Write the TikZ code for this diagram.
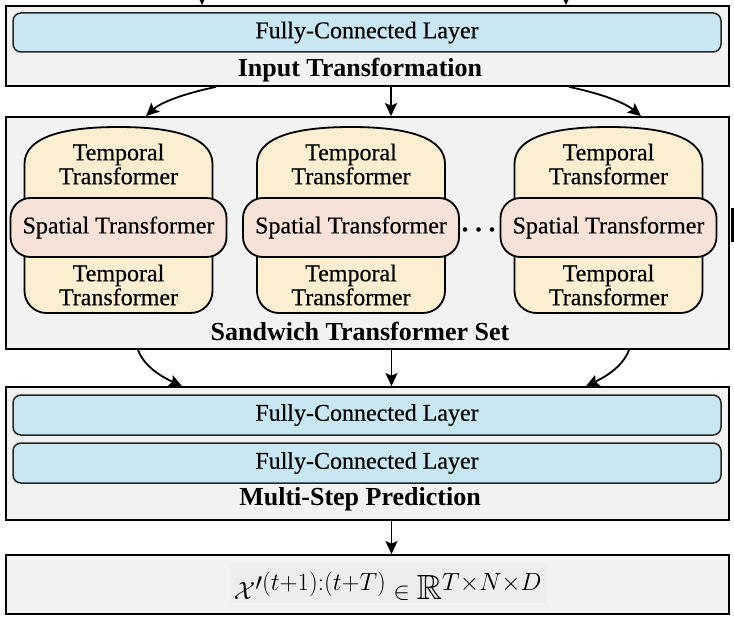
\documentclass[tikz,border=0pt]{standalone}
\usepackage{amsmath,amssymb}
\usepackage{fontspec}
\setmainfont{Liberation Serif}[UprightFeatures={FakeBold=0.35}]
\usetikzlibrary{arrows.meta}
\definecolor{boxgray}{HTML}{F2F2F2}
\definecolor{patchgray}{HTML}{EDEDED}
\definecolor{fcblue}{HTML}{C9E7F3}
\definecolor{tmpyellow}{HTML}{FCEFD1}
\definecolor{spatpink}{HTML}{F6E2D7}
\tikzset{
  outerbox/.style={draw=black, line width=1.8pt, fill=boxgray, minimum width=723pt, inner sep=0pt},
  fcbox/.style={draw=black!85, line width=1.5pt, fill=fcblue, rounded corners=8pt, minimum width=708pt, minimum height=39pt, inner sep=0pt, font=\fontsize{24}{28}\selectfont},
  tmpshape/.style={draw=black, line width=1.8pt, fill=tmpyellow},
  spatbox/.style={draw=black, line width=1.8pt, fill=spatpink, rounded corners=20pt, minimum width=216pt, minimum height=59pt, inner sep=0pt, font=\fontsize{24}{28}\selectfont},
  tlabel/.style={align=center, inner sep=0pt, font=\fontsize{24}{24}\selectfont},
  title/.style={inner sep=0pt, font=\bfseries\fontsize{26}{30}\selectfont},
  arr/.style={line width=1.8pt, -{Stealth[length=13pt,width=12pt,inset=2.5pt]}}
}
\newcommand{\sandunit}[2]{%
  \draw[tmpshape] (#1-94,230) -- (#1-94,164) .. controls (#1-94,138) and (#1-58,127) .. (#1,127)
     .. controls (#1+58,127) and (#1+94,138) .. (#1+94,164) -- (#1+94,230) -- cycle;
  \draw[tmpshape, rounded corners=22pt] (#1-94,226) rectangle (#1+94,313);
  \node[tlabel] (#2tt) at (#1,164) {Temporal\\Transformer};
  \node[tlabel] (#2tb) at (#1,285) {Temporal\\Transformer};
  \node[spatbox] (#2s) at (#1,227.5) {Spatial Transformer};
}
\begin{document}
\begin{tikzpicture}[x=1pt,y=-1pt]
\useasboundingbox (0,0) rectangle (734,618);
% input transformation
\node[outerbox, minimum height=80pt] (inp) at (367.5,46) {};
\node[fcbox] (fc0) at (367,32.5) {Fully-Connected Layer};
\node[title] (inpt) at (360,70) {Input Transformation};
\coordinate (topa) at (202,-20);
\coordinate (topb) at (566,-20);
\draw[arr] (topa) -- (topa |- inp.north);
\draw[arr] (topb) -- (topb |- inp.north);
% sandwich
\node[outerbox, minimum height=232pt] (sand) at (367.5,233) {};
\sandunit{118.5}{a}
\sandunit{351}{b}
\sandunit{608.5}{c}
\foreach \i in {465,478.5,492} \fill (\i,229.5) circle (2.3pt);
\fill (731,208) rectangle (734,242);
\node[title] (sandt) at (360,331) {Sandwich Transformer Set};
% arrows input -> sandwich
\draw[arr] ([xshift=-151.5pt]inp.south) .. controls (182,94) and (160,103) .. ([xshift=-221.5pt]sand.north);
\draw[arr] ([xshift=23.5pt]inp.south) -- ([xshift=23.5pt]sand.north);
\draw[arr] ([xshift=201.5pt]inp.south) .. controls (603,94) and (625,103) .. ([xshift=273.5pt]sand.north);
% multi-step prediction
\node[outerbox, minimum height=133pt] (msp) at (367.5,453.5) {};
\node[fcbox, minimum height=40pt] (fc1) at (367,415) {Fully-Connected Layer};
\node[fcbox, minimum height=40pt] (fc2) at (367,463) {Fully-Connected Layer};
\node[title] (mspt) at (360,499) {Multi-Step Prediction};
% arrows sandwich -> msp
\draw[arr] ([xshift=-229.5pt]sand.south) .. controls (144,366) and (160,376) .. ([xshift=-185.5pt]msp.north);
\draw[arr] ([xshift=24pt]sand.south) -- ([xshift=24pt]msp.north);
\draw[arr] ([xshift=261.5pt]sand.south) .. controls (623,366) and (607,376) .. ([xshift=218.5pt]msp.north);
% output
\node[outerbox, minimum height=59pt] (out) at (367.5,584.5) {};
\fill[patchgray] (231,563) rectangle (546,603);
\node[inner sep=0pt, font=\fontsize{35}{40}\selectfont] (form) at (388,586)
  {$\mathcal{X}'^{(t+1):(t+T)} \in \mathbb{R}^{T\times N\times D}$};
\draw[arr] ([xshift=24pt]msp.south) -- ([xshift=24pt]out.north);
\end{tikzpicture}
\end{document}
